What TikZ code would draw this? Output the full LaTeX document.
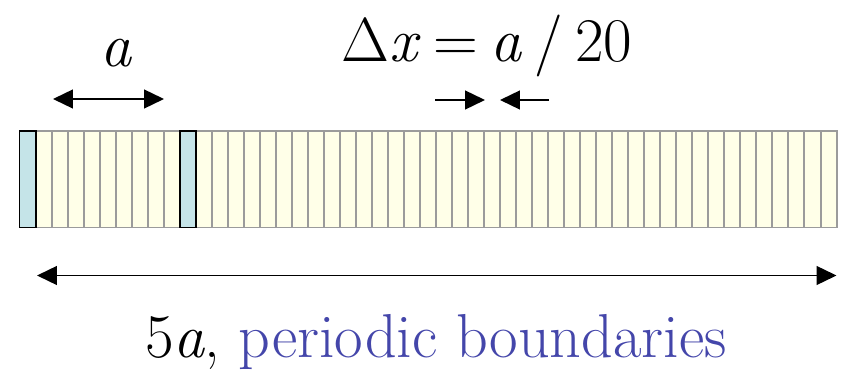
\documentclass[tikz,border=0pt]{standalone}
\usepackage{fontspec}
\usetikzlibrary{arrows.meta}
\definecolor{cellyellow}{RGB}{255,255,232}
\definecolor{cellblue}{RGB}{197,228,232}
\definecolor{cellgray}{RGB}{155,155,155}
\definecolor{boundblue}{RGB}{68,70,170}

\begin{document}
\begin{tikzpicture}[x=0.03cm,y=-0.03cm,>={Triangle[length=17pt,width=16pt]}]
  \useasboundingbox (0,0) rectangle (841,371);
  \tikzset{bigtext/.style={font=\fontsize{53}{60}\selectfont,inner sep=0pt,anchor=base},
           dimline/.style={line width=1.7pt}}

  %-------------------- strip of cells --------------------
  \foreach \i in {0,...,50}{
      \filldraw[fill=cellyellow,draw=cellgray,line width=1.7pt]
          ({19.5+16.02*\i},131) rectangle ++(16.02,96.5);
  }

  % periodic image cells
  \foreach \i in {0,10}{
      \filldraw[fill=cellblue,draw=black,line width=1.7pt]
          ({19.5+16.02*\i},131) rectangle ++(16.02,96.5);
  }

  %-------------------- dimensions --------------------
  % lattice constant a
  \coordinate (aL) at (53,99);
  \coordinate (aR) at (164,99);
  \draw[<->,dimline] (aL) -- (aR);
  \node[bigtext] (alabel) at (116,67) {\textit{a}};

  % grid spacing
  \coordinate (dxL) at (435,100);
  \coordinate (dxLtip) at (485,100);
  \coordinate (dxRtip) at (500,100);
  \coordinate (dxR) at (549,100);
  \draw[->,dimline] (dxL) -- (dxLtip);
  \draw[->,dimline] (dxR) -- (dxRtip);
  \node[bigtext] (dxlabel) at (487,62)
      {Δ\textit{x}\hspace{0.2em}=\hspace{0.2em}\textit{a}\hspace{0.2em}/\hspace{0.2em}20};

  % whole box
  \coordinate (wL) at (37,275.5);
  \coordinate (wR) at (836.5,275.5);
  \draw[<->,dimline] (wL) -- (wR);
  \node[bigtext] (wlabel) at (436,357)
      {5\textit{a}, \textcolor{boundblue}{periodic boundaries}};

\end{tikzpicture}
\end{document}
